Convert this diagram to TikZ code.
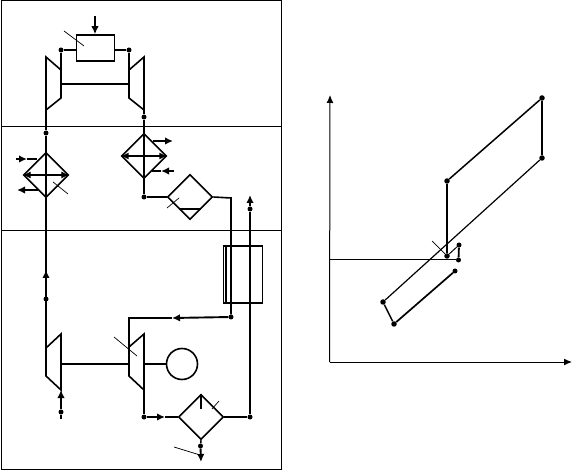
\documentclass[tikz,border=0pt]{standalone}
\usetikzlibrary{arrows.meta,shapes.geometric}
\begin{document}
\begin{tikzpicture}[x=1pt,y=-1pt,pipe/.style={line width=1.6pt,line join=miter},thin line/.style={line width=.7pt},rule/.style={line width=1pt},arr/.style={-{Latex[length=8pt,width=7.5pt]},line width=1.9pt},dot/.style={circle,fill=black,inner sep=0pt,minimum size=5pt},bigdot/.style={circle,fill=black,inner sep=0pt,minimum size=5.5pt},hx/.style={diamond,draw,line width=1.6pt,inner sep=0pt,minimum width=45pt,minimum height=45pt},axis/.style={-{Latex[length=8pt,width=7pt]},line width=1pt}]
\useasboundingbox (0,0) rectangle (573,470);
\node[draw,rule,inner sep=0pt,minimum width=280pt,minimum height=468pt] (frame) at (141,235) {};
\coordinate (sa) at (1,127); \coordinate (sb) at (281,127);
\coordinate (sc) at (1,231); \coordinate (sd) at (281,231);
\draw[rule] (sa)--(sb); \draw[rule] (sc)--(sd);
% upper gas turbine
\node[draw,pipe,inner sep=0pt,minimum width=38pt,minimum height=26pt] (burner) at (95.5,48) {};
\coordinate (fuel) at (95,16);
\draw[arr] (fuel)--(fuel|-burner.north);
\node[dot] (bl) at (61,50) {}; \node[dot] (br) at (129,50) {};
\draw[pipe] (bl)--(bl-|burner.west); \draw[pipe] (br)--(br-|burner.east);
\coordinate (ca) at (46,57); \coordinate (cb) at (61,70); \coordinate (cc) at (61,98); \coordinate (cd) at (46,110);
\coordinate (ta) at (144,57); \coordinate (tb) at (129,70); \coordinate (tc) at (129,98); \coordinate (td) at (144,110);
\draw[pipe] (ca)--(cb)--(cc)--(cd)--cycle; \draw[pipe] (ta)--(tb)--(tc)--(td)--cycle;
\draw[pipe] (bl)--(cb); \draw[pipe] (br)--(tb);
\coordinate (sl) at (61,84); \coordinate (sr) at (129,84);
\draw[pipe] (sl)--(sr);
\coordinate (ba) at (64,31); \coordinate (bb) at (84,46);
\draw[thin line] (ba)--(bb);
% left exchanger
\node[hx] (hxa) at (46,175) {};
\node[dot] (da) at (46,133) {}; \node[dot] (db) at (46,299) {};
\coordinate (cinl) at (46,348); \coordinate (cinu) at (46,270); \coordinate (cinb) at (46,288);
\draw[pipe] (cd)--(da)--(hxa.north); \draw[pipe] (hxa.south)--(cinl);
\draw[arr] (cinb)--(cinu);
\draw[{Latex[length=8pt,width=7pt]}-{Latex[length=8pt,width=7pt]},line width=1.1pt] (hxa.west)--(hxa.east);
\draw[pipe] (hxa.north)--(hxa.south);
\coordinate (ea) at (16,159); \coordinate (eb) at (27,159); \coordinate (ec) at (37,159);
\draw[pipe] (eb)--(ec); \draw[arr] (ea)--(eb);
\coordinate (ed) at (38,190); \coordinate (ee) at (17,190);
\draw[arr] (ed)--(ee);
\coordinate (ef) at (53,182); \coordinate (eg) at (68,194);
\draw[thin line] (ef)--(eg);
% right exchanger
\node[hx] (hxb) at (144,156) {};
\node[dot] (dc) at (144,117) {}; \node[dot] (dd) at (144,197) {};
\draw[pipe] (td)--(dc)--(hxb.north); \draw[pipe] (hxb.north)--(hxb.south)--(dd);
\draw[{Latex[length=8pt,width=7pt]}-{Latex[length=8pt,width=7pt]},line width=1.9pt] (hxb.west)--(hxb.east);
\coordinate (fa) at (153,141); \coordinate (fb) at (173,141);
\draw[arr] (fa)--(fb);
\coordinate (fc) at (174,171); \coordinate (fd) at (161,171); \coordinate (fe) at (152,171);
\draw[pipe] (fd)--(fe); \draw[arr] (fc)--(fd);
% boiler
\node[hx] (hxc) at (190,197) {};
\draw[pipe] (dd)--(hxc.west);
\coordinate (ga) at (179,209); \coordinate (gb) at (201,209);
\draw[pipe] (ga)--(gb);
\coordinate (gc) at (167,208); \coordinate (gd) at (179,198);
\draw[thin line] (gc)--(gd);
\node[dot] (de) at (231,317) {};
\coordinate (ge) at (231,198);
\draw[pipe] (hxc.east)--(ge)--(de);
% stack
\node[draw,pipe,inner sep=0pt,minimum width=39pt,minimum height=57pt] (stack) at (243,274.5) {};
\coordinate (sta) at (226,246); \coordinate (stb) at (226,303);
\draw[pipe] (sta)--(stb);
\node[dot] (df) at (250,209) {}; \node[dot] (dg) at (250,417) {};
\coordinate (top) at (250,195);
\draw[arr] (df)--(top); \draw[pipe] (df)--(dg);
% lower gas turbine
\coordinate (pa) at (172,318); \coordinate (pb) at (129,318);
\coordinate (oa) at (61,334); \coordinate (ob) at (46,348); \coordinate (oc) at (46,376); \coordinate (od) at (61,390);
\coordinate (ua) at (144,334); \coordinate (ub) at (129,347); \coordinate (uc) at (129,376); \coordinate (ud) at (144,390);
\draw[pipe] (oa)--(ob)--(oc)--(od)--cycle; \draw[pipe] (ua)--(ub)--(uc)--(ud)--cycle;
\draw[pipe] (pa)--(pb)--(ub); \draw[arr] (de)--(pa);
\coordinate (ol) at (61,364); \coordinate (or) at (129,364); \coordinate (ur) at (144,364);
\draw[pipe] (ol)--(or);
\node[circle,draw,pipe,inner sep=0pt,minimum size=31pt] (gen) at (182,364) {};
\draw[pipe] (ur)--(gen.west);
\coordinate (ka) at (114,337); \coordinate (kb) at (137,356);
\draw[thin line] (ka)--(kb);
\node[dot] (dh) at (61,412) {}; \coordinate (ia) at (61,419);
\draw[pipe] (ia)--(dh); \draw[arr] (dh)--(od);
% condenser
\node[hx] (hxd) at (201,417) {};
\node[dot] (di) at (144,417) {};
\coordinate (ma) at (165,417);
\draw[pipe] (ud)--(di); \draw[arr] (di)--(ma); \draw[pipe] (ma)--(hxd.west);
\draw[pipe] (hxd.east)--(dg);
\coordinate (mb) at (201,409);
\draw[pipe] (hxd.north)--(mb);
\coordinate (mc) at (212,409); \coordinate (md) at (219,401);
\draw[thin line] (mc)--(md);
\node[dot] (dj) at (200.5,446) {}; \coordinate (me) at (201,462);
\draw[pipe] (hxd.south)--(dj); \draw[arr] (dj)--(me);
\coordinate (mf) at (174,447); \coordinate (mg) at (200,455);
\draw[thin line] (mf)--(mg);
% chart
\coordinate (orig) at (329.5,362); \coordinate (ytip) at (330,95); \coordinate (xtip) at (572,362);
\draw[axis] (orig)--(ytip); \draw[axis] (orig)--(xtip);
\node[bigdot] (pa1) at (542,98) {}; \node[bigdot] (pb1) at (542,158) {};
\node[bigdot] (pc1) at (447,181) {}; \node[bigdot] (pd1) at (447,256) {};
\node[dot] (pe1) at (459,245) {}; \node[dot] (pf1) at (458.5,260) {};
\node[dot] (pg1) at (455,271) {}; \node[bigdot] (ph1) at (394,324) {};
\node[bigdot] (pi1) at (383,302) {};
\coordinate (py) at (329,260);
\draw[rule] (py)--(pf1);
\draw[line width=1.5pt] (pc1)--(pa1); \draw[line width=1.9pt] (pa1)--(pb1);
\draw[line width=1.2pt] (pb1)--(pi1);
\draw[line width=1.9pt] (pc1)--(pd1);
\draw[line width=1pt] (pd1)--(pe1); \draw[line width=1.8pt] (pe1)--(pf1);
\draw[line width=1.7pt] (pg1)--(ph1); \draw[line width=1.4pt] (ph1)--(pi1);
\coordinate (qa) at (432,241); \coordinate (qb) at (445,254);
\draw[thin line] (qa)--(qb);
\end{tikzpicture}
\end{document}
